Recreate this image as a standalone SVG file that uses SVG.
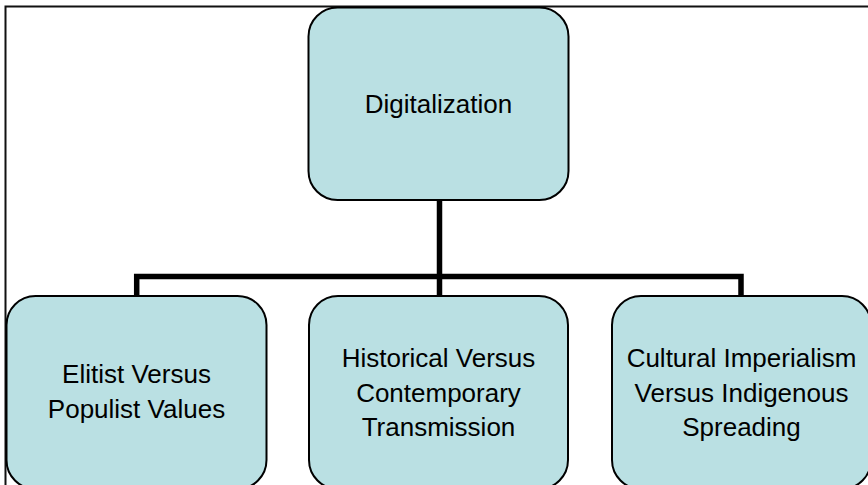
<svg xmlns="http://www.w3.org/2000/svg" width="868" height="485" viewBox="0 0 868 485">
<style>
.node rect{fill:#BAE0E3;stroke:#000;stroke-width:2}
.node text{font-family:"Liberation Sans",Arial,sans-serif;font-size:26px;fill:#000;text-anchor:middle}
.conn{fill:none;stroke:#000;stroke-width:5.5;stroke-linejoin:miter}
</style>
<rect x="0" y="0" width="868" height="485" fill="#fff"/>
<rect x="5.5" y="6.5" width="900" height="600" fill="none" stroke="#111" stroke-width="2"/>
<g id="connectors">
<path class="conn" d="M439.5 200 V296"/>
<path class="conn" d="M136.7 296 V276.5 H741 V296"/>
</g>
<g id="n-digitalization" class="node">
<rect x="308.5" y="7.5" width="260" height="192.5" rx="29" ry="29"/>
<text x="438.5" y="113">Digitalization</text>
</g>
<g id="n-elitist" class="node">
<rect x="6.5" y="296" width="260" height="193" rx="29" ry="29"/>
<text x="136.5" y="383">Elitist Versus</text>
<text x="136.5" y="417.5">Populist Values</text>
</g>
<g id="n-historical" class="node">
<rect x="309" y="296" width="259" height="193" rx="29" ry="29"/>
<text x="438.5" y="367">Historical Versus</text>
<text x="438.5" y="401.5">Contemporary</text>
<text x="438.5" y="436">Transmission</text>
</g>
<g id="n-cultural" class="node">
<rect x="612" y="296" width="259" height="193" rx="29" ry="29"/>
<text x="741.5" y="367">Cultural Imperialism</text>
<text x="741.5" y="401.5">Versus Indigenous</text>
<text x="741.5" y="436">Spreading</text>
</g>
</svg>
